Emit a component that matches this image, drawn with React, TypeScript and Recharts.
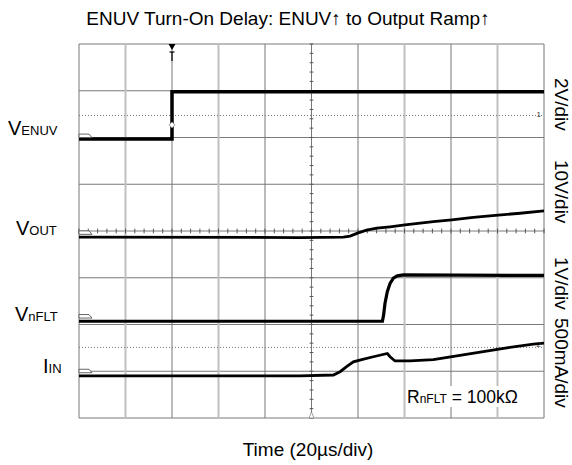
import { ComposedChart, Line, XAxis, YAxis, ReferenceLine, ReferenceDot } from 'recharts'

// time in µs (20 µs/div), values in screen divisions (0 = bottom, 8 = top)
const gridTimes = [0, 20, 40, 60, 80, 100, 120, 140, 160, 180, 200]
const gridDivs = [0, 1, 2, 3, 4, 5, 6, 7, 8]
const lightTimes = [20, 60, 140, 180]
const minorTimes = Array.from({ length: 51 }, (_, i) => i * 4)
const minorDivs = Array.from({ length: 41 }, (_, i) => i * 0.2)

const enuvT = [0, 40, 40, 200]
const enuvV = [5.97, 5.97, 6.98, 6.98]

const voutT = [0, 95, 113.7, 116.6, 120.1, 123.7, 128.1, 133.8, 140.2, 152.4, 160.3, 169.6, 180.3, 189.7, 200]
const voutV = [3.87, 3.86, 3.87, 3.89, 3.96, 4.02, 4.06, 4.09, 4.13, 4.2, 4.24, 4.29, 4.34, 4.38, 4.43]

const nfltT = [0, 130.5, 131, 131.6, 132.6, 133.8, 135.2, 136.9, 139.5, 200]
const nfltV = [2.07, 2.07, 2.2, 2.45, 2.7, 2.88, 2.99, 3.04, 3.06, 3.05]

const iinT = [0, 95, 109.4, 112.3, 115.1, 118, 121.6, 126.6, 132.6, 133.8, 135.9, 142.4, 152.4, 162.5, 173.9, 184, 195.4, 200]
const iinV = [0.9, 0.9, 0.92, 0.99, 1.1, 1.2, 1.25, 1.31, 1.38, 1.31, 1.22, 1.22, 1.25, 1.33, 1.42, 1.5, 1.58, 1.6]

const groundLevels = [6.03, 3.96, 2.17, 1.0]
const refDotted = [6.47, 1.51]

const scaleLabels = ['2V/div', '10V/div', '1V/div', '500mA/div']
const scaleLabelTops = [78, 160, 257, 318]

const toData = (t: number[], v: number[]) => t.map((x, i) => ({ t: x, v: v[i] }))

const font = "Arial, 'Liberation Sans', sans-serif"

const Tag = (p: any) => (
  <path
    d={`M${p.cx},${p.cy - 2} L${p.cx + 10},${p.cy - 2} L${p.cx + 13},${p.cy + 1.5} L${p.cx},${p.cy + 1.5} Z`}
    fill="#fff"
    stroke="#555"
    strokeWidth={0.9}
  />
)

const Trigger = (p: any) => (
  <g>
    <polygon points={`${p.cx - 3.5},${p.cy} ${p.cx + 3.5},${p.cy} ${p.cx},${p.cy + 6}`} fill="#000" />
    <line x1={p.cx - 2.5} y1={p.cy + 8} x2={p.cx + 2.5} y2={p.cy + 8} stroke="#000" strokeWidth={1.2} />
    <line x1={p.cx} y1={p.cy + 8} x2={p.cx} y2={p.cy + 17} stroke="#000" strokeWidth={1.2} />
  </g>
)

const Diamond = (p: any) => (
  <polygon
    points={`${p.cx},${p.cy - 3} ${p.cx + 3},${p.cy} ${p.cx},${p.cy + 3} ${p.cx - 3},${p.cy}`}
    fill="#fff"
    stroke="#888"
    strokeWidth={0.8}
  />
)

const BottomMark = (p: any) => (
  <polygon
    points={`${p.cx - 2.5},${p.cy} ${p.cx + 2.5},${p.cy} ${p.cx},${p.cy - 6}`}
    fill="#fff"
    stroke="#888"
    strokeWidth={0.8}
  />
)

const ChanNum = (label: string) => (p: any) => (
  <text x={p.cx - 3} y={p.cy + 1} fontSize={8} fontFamily={font} textAnchor="end" fill="#333">
    {label}
  </text>
)

export default function App() {
  return (
    <div style={{ position: 'absolute', left: 0, top: 0, width: 572, height: 465, background: '#fff' }}>
      <ComposedChart width={572} height={465} margin={{ top: 44, right: 28, bottom: 47, left: 79 }}>
        <XAxis dataKey="t" type="number" domain={[0, 200]} allowDataOverflow hide />
        <YAxis type="number" domain={[0, 8]} allowDataOverflow hide />

        {gridDivs.map((d) => (
          <ReferenceLine key={'h' + d} y={d} stroke="#7a7a7a" strokeWidth={1} />
        ))}
        {gridTimes.map((t) => (
          <ReferenceLine
            key={'v' + t}
            x={t}
            stroke={lightTimes.includes(t) ? '#c0c0c0' : '#777'}
            strokeWidth={lightTimes.includes(t) ? 2 : 1}
          />
        ))}
        {refDotted.map((d) => (
          <ReferenceLine key={'d' + d} y={d} stroke="#777" strokeWidth={1} strokeDasharray="1 2" />
        ))}
        {minorTimes.map((t) => (
          <ReferenceLine key={'mt' + t} segment={[{ x: t, y: 3.95 }, { x: t, y: 4.05 }]} stroke="#555" />
        ))}
        {minorDivs.map((d) => (
          <ReferenceLine key={'md' + d} segment={[{ x: 99.2, y: d }, { x: 100.8, y: d }]} stroke="#555" />
        ))}

        <Line data={toData(enuvT, enuvV)} dataKey="v" stroke="#000" strokeWidth={3.5} dot={false} isAnimationActive={false} />
        <Line data={toData(voutT, voutV)} dataKey="v" stroke="#000" strokeWidth={2.8} dot={false} isAnimationActive={false} />
        <Line data={toData(nfltT, nfltV)} dataKey="v" stroke="#000" strokeWidth={3.2} dot={false} isAnimationActive={false} />
        <Line data={toData(iinT, iinV)} dataKey="v" stroke="#000" strokeWidth={2.8} dot={false} isAnimationActive={false} />

        {groundLevels.map((g) => (
          <ReferenceDot key={'g' + g} x={0} y={g} r={0} shape={Tag} ifOverflow="visible" />
        ))}
        <ReferenceDot x={40} y={8} r={0} shape={Trigger} ifOverflow="visible" />
        <ReferenceDot x={40} y={6.27} r={0} shape={Diamond} ifOverflow="visible" />
        <ReferenceDot x={100} y={0} r={0} shape={BottomMark} ifOverflow="visible" />
        <ReferenceDot x={200} y={6.47} r={0} shape={ChanNum('1')} ifOverflow="visible" />
        <ReferenceDot x={200} y={1.55} r={0} shape={ChanNum('2')} ifOverflow="visible" />
      </ComposedChart>

      <svg width={572} height={465} style={{ position: 'absolute', left: 0, top: 0, pointerEvents: 'none' }}>
        <text x={288} y={25} textAnchor="middle" fontSize={19} fontFamily={font} fill="#000">
          ENUV Turn-On Delay: ENUV↑ to Output Ramp↑
        </text>
        <text x={308} y={456} textAnchor="middle" fontSize={19} fontFamily={font} fill="#000">
          Time (20µs/div)
        </text>

        <text x={8} y={135} fontFamily={font} fill="#000">
          <tspan fontSize={20}>V</tspan>
          <tspan fontSize={13}>ENUV</tspan>
        </text>
        <text x={16} y={235} fontFamily={font} fill="#000">
          <tspan fontSize={20}>V</tspan>
          <tspan fontSize={13}>OUT</tspan>
        </text>
        <text x={15} y={321} fontFamily={font} fill="#000">
          <tspan fontSize={20}>V</tspan>
          <tspan fontSize={13}>nFLT</tspan>
        </text>
        <text x={43} y={373} fontFamily={font} fill="#000">
          <tspan fontSize={20}>I</tspan>
          <tspan fontSize={13}>IN</tspan>
        </text>

        {scaleLabels.map((s, i) => (
          <text
            key={s}
            x={555}
            y={scaleLabelTops[i]}
            fontSize={19}
            fontFamily={font}
            fill="#000"
            transform={`rotate(90, 555, ${scaleLabelTops[i]})`}
          >
            {s}
          </text>
        ))}

        <rect x={406} y={386} width={136} height={21} fill="#fff" />
        <text x={407} y={403} fontFamily={font} fill="#000">
          <tspan fontSize={17.5}>R</tspan>
          <tspan fontSize={12}>nFLT</tspan>
          <tspan fontSize={17.5}> = 100kΩ</tspan>
        </text>
      </svg>
    </div>
  )
}
